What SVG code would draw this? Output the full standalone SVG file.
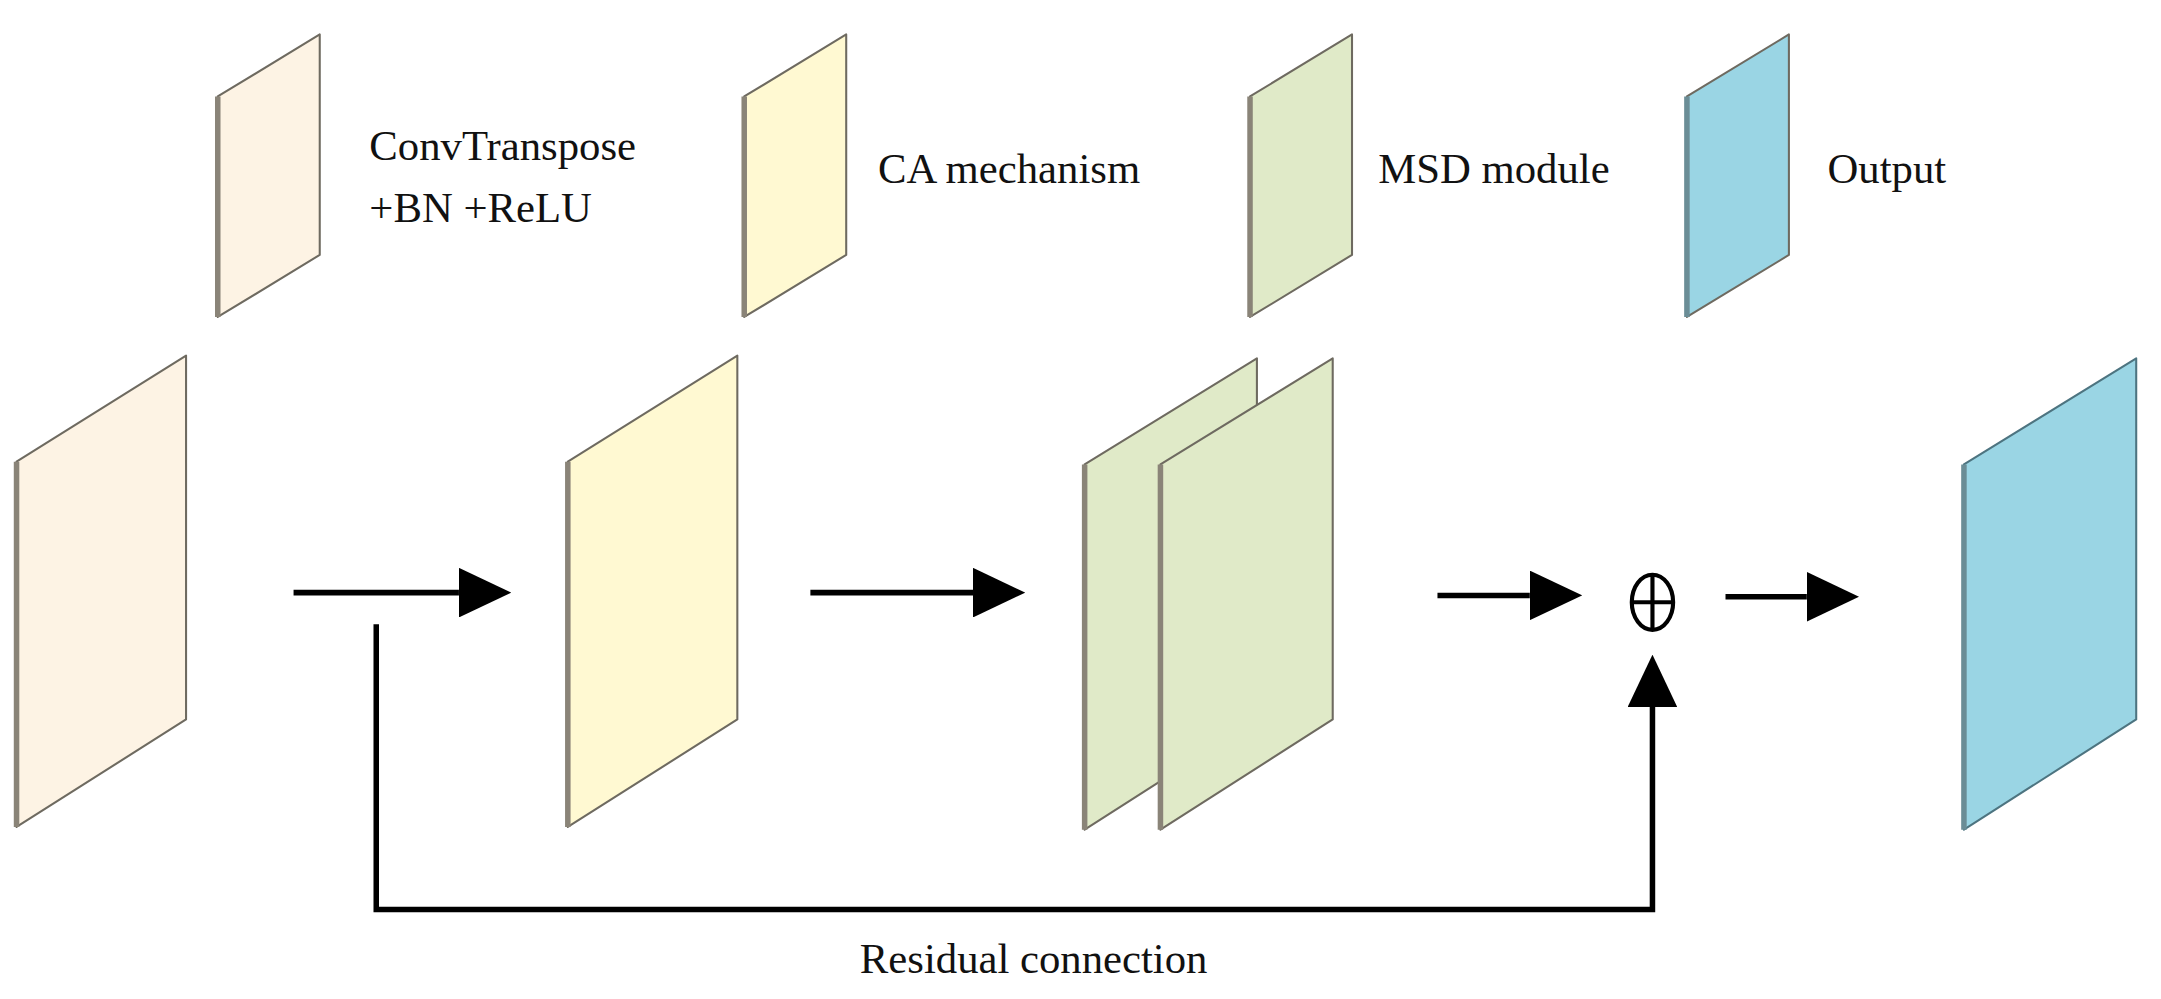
<svg xmlns="http://www.w3.org/2000/svg" width="2161" height="999" viewBox="0 0 2161 999">
<style>
.p{stroke:#6e6a60;stroke-width:1.5;stroke-linejoin:round}
.e{stroke:#8a8478;stroke-width:4}
.t{font-family:"Liberation Serif",serif;font-size:31px;fill:#111}
.c{stroke:#000;stroke-width:4;fill:none}
</style>
<defs>
<marker id="ah" viewBox="0 0 10 10" refX="0" refY="5" markerWidth="38" markerHeight="36" markerUnits="userSpaceOnUse" orient="auto" preserveAspectRatio="none"><path d="M0,0 L10,5 L0,10 z"/></marker>
</defs>
<rect width="2161" height="999" fill="#fff"/>
<g transform="scale(1.3782)">
<g id="legend-conv"><polygon class="p" points="158,70 232,25 232,185 158,230" fill="#fdf3e4"/><line class="e" x1="158" y1="70" x2="158" y2="230"/><text class="t" x="268" y="116">ConvTranspose</text><text class="t" x="268" y="161">+BN +ReLU</text></g>
<g id="legend-ca"><polygon class="p" points="540,70 614,25 614,185 540,230" fill="#fff9d2"/><line class="e" x1="540" y1="70" x2="540" y2="230"/><text class="t" x="637" y="133">CA mechanism</text></g>
<g id="legend-msd"><polygon class="p" points="907,70 981,25 981,185 907,230" fill="#e0eac8"/><line class="e" x1="907" y1="70" x2="907" y2="230"/><text class="t" x="1000" y="133">MSD module</text></g>
<g id="legend-out"><polygon class="p" points="1224,70 1298,25 1298,185 1224,230" fill="#9ad5e4"/><line class="e" x1="1224" y1="70" x2="1224" y2="230" style="stroke:#6b8d96"/><text class="t" x="1326" y="133">Output</text></g>
<g id="n-conv"><polygon class="p" points="12,335 135,258 135,522 12,600" fill="#fdf3e4"/><line class="e" x1="12" y1="335" x2="12" y2="600"/></g>
<g id="n-ca"><polygon class="p" points="412,335 535,258 535,522 412,600" fill="#fff9d2"/><line class="e" x1="412" y1="335" x2="412" y2="600"/></g>
<g id="n-msd"><polygon class="p" points="787,337 912,260 912,522 787,602" fill="#e0eac8"/><line class="e" x1="787" y1="337" x2="787" y2="602"/><polygon class="p" points="842,337 967,260 967,522 842,602" fill="#e0eac8"/><line class="e" x1="842" y1="337" x2="842" y2="602"/></g>
<g id="n-out"><polygon class="p" points="1425,337 1550,260 1550,522 1425,602" fill="#9ad5e4" style="stroke:#4d7480"/><line class="e" x1="1425" y1="337" x2="1425" y2="602" style="stroke:#6b8d96"/></g>
<g id="n-add"><ellipse cx="1199" cy="437" rx="15" ry="20" fill="none" stroke="#000" stroke-width="3"/><line x1="1184" y1="437" x2="1214" y2="437" stroke="#000" stroke-width="3"/><line x1="1199" y1="417" x2="1199" y2="457" stroke="#000" stroke-width="3"/></g>
<g id="connectors">
<line class="c" x1="213" y1="430" x2="333" y2="430" marker-end="url(#ah)"/>
<line class="c" x1="588" y1="430" x2="706" y2="430" marker-end="url(#ah)"/>
<line class="c" x1="1043" y1="432" x2="1110" y2="432" marker-end="url(#ah)"/>
<line class="c" x1="1252" y1="433" x2="1311" y2="433" marker-end="url(#ah)"/>
<polyline class="c" points="273,453 273,660 1199,660 1199,513" marker-end="url(#ah)"/>
</g>
<text class="t" x="750" y="706" text-anchor="middle">Residual connection</text>
</g>
</svg>
